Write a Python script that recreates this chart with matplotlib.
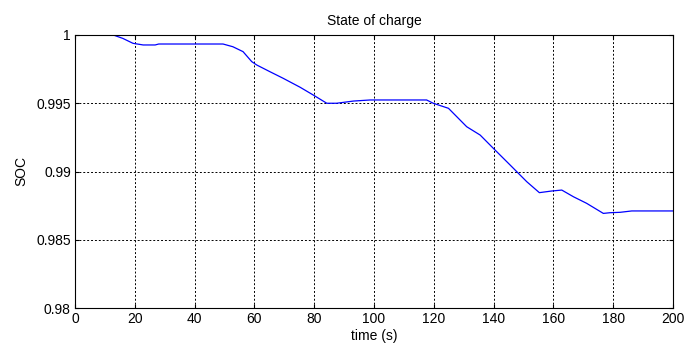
import matplotlib
matplotlib.use("Agg")
import matplotlib.pyplot as plt

# datos
t = [0, 12.8, 16, 19.4, 22.8, 26.8, 28, 40, 49.5, 52.8, 56.2, 59.1, 60.8, 65.2,
     69.6, 75.3, 79.7, 84.2, 87.5, 93.1, 98.7, 110, 117.6, 119.8, 124.9, 131,
     135.5, 139.9, 145.5, 151.1, 155.3, 159.4, 162.8, 166.7, 171.1, 176.7,
     178.9, 182.3, 186.2, 200]
soc = [1.0, 1.0, 0.99975, 0.99939, 0.99927, 0.99927, 0.99934, 0.99934, 0.99934,
       0.99914, 0.99878, 0.99805, 0.99780, 0.99731, 0.99683, 0.99617, 0.99560,
       0.99500, 0.99500, 0.99516, 0.99524, 0.99524, 0.99524, 0.99500, 0.99463,
       0.99328, 0.99267, 0.99170, 0.99048, 0.98925, 0.98845, 0.98857, 0.98864,
       0.98815, 0.98767, 0.98693, 0.98698, 0.98701, 0.98711, 0.98711]

xticks = [0, 20, 40, 60, 80, 100, 120, 140, 160, 180, 200]
yticks = [0.98, 0.985, 0.99, 0.995, 1]
ylabels = ["0.98", "0.985", "0.99", "0.995", "1"]

plt.rcParams['font.family'] = ['Liberation Sans', 'DejaVu Sans']
plt.rcParams['font.size'] = 10

fig = plt.figure(figsize=(6.85, 3.5), dpi=100)
ax = fig.add_axes([0.1095, 0.12, 0.873, 0.78])
ax.plot(t, soc, color='blue', linewidth=0.9)

ax.set_xlim(0, 200)
ax.set_ylim(0.98, 1.0)
ax.set_xticks(xticks)
ax.set_yticks(yticks)
ax.set_yticklabels(ylabels)
ax.grid(True, color='black', linestyle=(0, (2, 2)), linewidth=0.7)
ax.tick_params(direction='in', top=True, right=True, length=3, pad=3)
for s in ax.spines.values():
    s.set_linewidth(0.8)

ax.set_xlabel("time (s)", labelpad=2)
ax.set_ylabel("SOC", labelpad=6)
ax.set_title("State of charge", fontsize=10, pad=7)

fig.savefig("out.png", dpi=100)
